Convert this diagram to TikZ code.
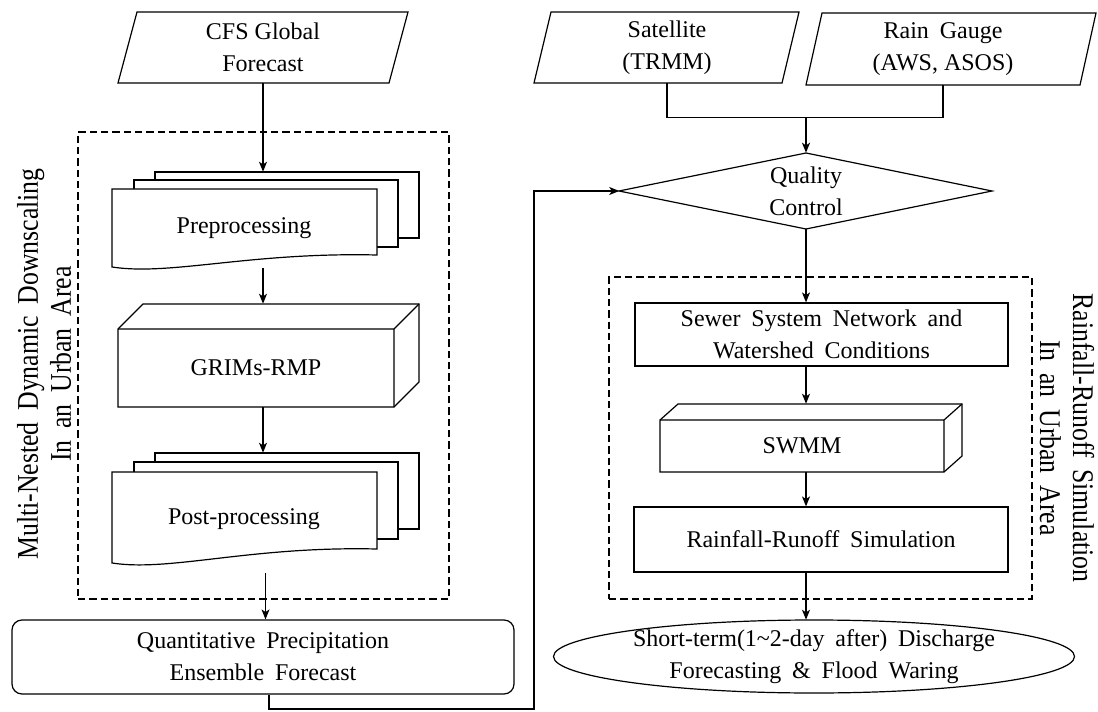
\documentclass[tikz,border=0pt]{standalone}
\usepackage{fontspec}
\setmainfont{Liberation Serif}
\usetikzlibrary{arrows.meta,shapes.geometric}
\newcommand{\wg}{\hspace{0.45em}}

\begin{document}
\begin{tikzpicture}[x=0.75pt,y=-0.75pt,
  every node/.style={font=\fontsize{18}{24}\selectfont},
  ln/.style={line width=0.9pt},
  shp/.style={ln, draw=black, fill=white, line join=miter},
  arr/.style={ln, -{Stealth[length=7.5pt,width=6pt,inset=2pt]}},
  dashbox/.style={line width=0.8pt, dash pattern=on 5.5pt off 3pt},
  txt/.style={align=center, inner sep=0pt},
  area/.style 2 args={inner sep=0pt, minimum width=#1*0.75pt, minimum height=#2*0.75pt},
  sidelabel/.style={font=\fontsize{22.5}{24.75}\selectfont, align=center, inner sep=0pt}]

\useasboundingbox (0,0) rectangle (1098,712);

% dashed group frames
\node[area={371}{467}, draw, dashbox] (dashL) at (263.5,365.5) {};
\node[area={423}{322}, draw, dashbox] (dashR) at (820.5,438) {};

% group labels (narrow tall lettering)
\node[sidelabel, rotate=90, xscale=0.86] (lblL) at (44,364)
  {Multi-Nested\wg Dynamic\wg Downscaling\\In\wg an\wg Urban\wg Area};
\node[sidelabel, rotate=-90, xscale=0.86] (lblR) at (1067,438)
  {Rainfall-Runoff\wg Simulation\\In\wg an\wg Urban\wg Area};

% ---------- left column ----------
\draw[shp] (137,12) -- (408,12) -- (389,83) -- (118,83) -- cycle;
\node[area={290}{71}, txt] (cfs) at (263,47.5) {CFS Global\\Forecast};

% Preprocessing: stack of documents
\draw[shp] (155,172) rectangle (419,238);
\draw[shp] (134,180) rectangle (398,247);
\draw[shp] (112,189) -- (377,189) -- (377,255)
  .. controls (250,252) and (170,276) .. (112,267) -- cycle;
\node[area={307}{96}] (pre) at (265.5,220) {};
\node[txt] (preT) at (244,228) {Preprocessing};

% GRIMs-RMP: 3D block
\draw[shp] (118,329) -- (143,304) -- (419,304) -- (419,382) -- (394,407) -- (118,407) -- cycle;
\draw[ln] (118,329) -- (394,329) -- (419,304) (394,329) -- (394,407);
\node[area={301}{103}] (grims) at (268.5,355.5) {};
\node[txt] (grimsT) at (256,368) {GRIMs-RMP};

% Post-processing: stack of documents
\draw[shp] (155,453) rectangle (419,529);
\draw[shp] (134,462) rectangle (398,539);
\draw[shp] (112,472) -- (377,472) -- (377,549)
  .. controls (250,546) and (170,572) .. (112,563) -- cycle;
\node[area={307}{120}] (post) at (265.5,513) {};
\node[txt] (postT) at (244,519) {Post-processing};

% ensemble forecast
\node[area={502}{74}, draw, ln, fill=white, rounded corners=7.5pt, txt] (qpef) at (263,657)
  {Quantitative\wg Precipitation\\Ensemble\wg Forecast};

% ---------- right column ----------
\draw[shp] (551,12) -- (799,12) -- (782,83) -- (534,83) -- cycle;
\node[area={248}{71}, txt] (sat) at (667,47.5) {Satellite\\(TRMM)};
\draw[shp] (822,13) -- (1096,13) -- (1080,85) -- (806,85) -- cycle;
\node[area={258}{72}, txt] (rg) at (943,49) {Rain\wg Gauge\\(AWS, ASOS)};

\draw[shp] (806,153) -- (992,191) -- (806,229) -- (619,191) -- cycle;
\node[area={373}{76}, txt] (qc) at (806,191) {Quality\\Control};

\node[area={373}{63}, draw, ln, fill=white, txt] (sewer) at (821.5,334.5)
  {Sewer\wg System\wg Network\wg and\\Watershed\wg Conditions};

% SWMM: 3D block
\draw[shp] (660,420) -- (678,404) -- (962,404) -- (962,456) -- (944,472) -- (660,472) -- cycle;
\draw[ln] (660,420) -- (944,420) -- (962,404) (944,420) -- (944,472);
\node[area={302}{68}] (swmm) at (811,438) {};
\node[txt] (swmmT) at (802,446) {SWMM};

\node[area={374}{65}, draw, ln, fill=white, txt] (rrs) at (821,539.5)
  {Rainfall-Runoff\wg Simulation};

\draw[ln, fill=white] (814,656.5) ellipse [x radius=260.5, y radius=36.5];
\node[area={521}{73}, txt] (out) at (814,656.5)
  {Short-term(1\textasciitilde 2-day\wg after)\wg Discharge\\Forecasting\wg \&\wg Flood\wg Waring};

% ---------- connectors ----------
\draw[arr] (cfs.south) -- (cfs.south |- pre.north);
\draw[arr] (cfs.south |- pre.south) -- (cfs.south |- grims.north);
\draw[arr] (cfs.south |- grims.south) -- (cfs.south |- post.north);
\draw[arr] (post.south) -- (post.south |- qpef.north);

\coordinate (join) at (806,117);
\draw[ln] (sat.south) -- ++(0,34) -| (rg.south);
\draw[arr, line width=1.3pt] (join) -- (qc.north);
\draw[arr] (qc.south) -- (qc.south |- sewer.north);
\draw[arr] (qc.south |- sewer.south) -- (qc.south |- swmm.north);
\draw[arr] (qc.south |- swmm.south) -- (qc.south |- rrs.north);
\draw[arr] (qc.south |- rrs.south) -- (qc.south |- out.north);

\coordinate (fb) at (534,709);
\draw[arr] ([xshift=4.5pt]qpef.south) |- (fb) |- (qc.west);
\end{tikzpicture}
\end{document}
